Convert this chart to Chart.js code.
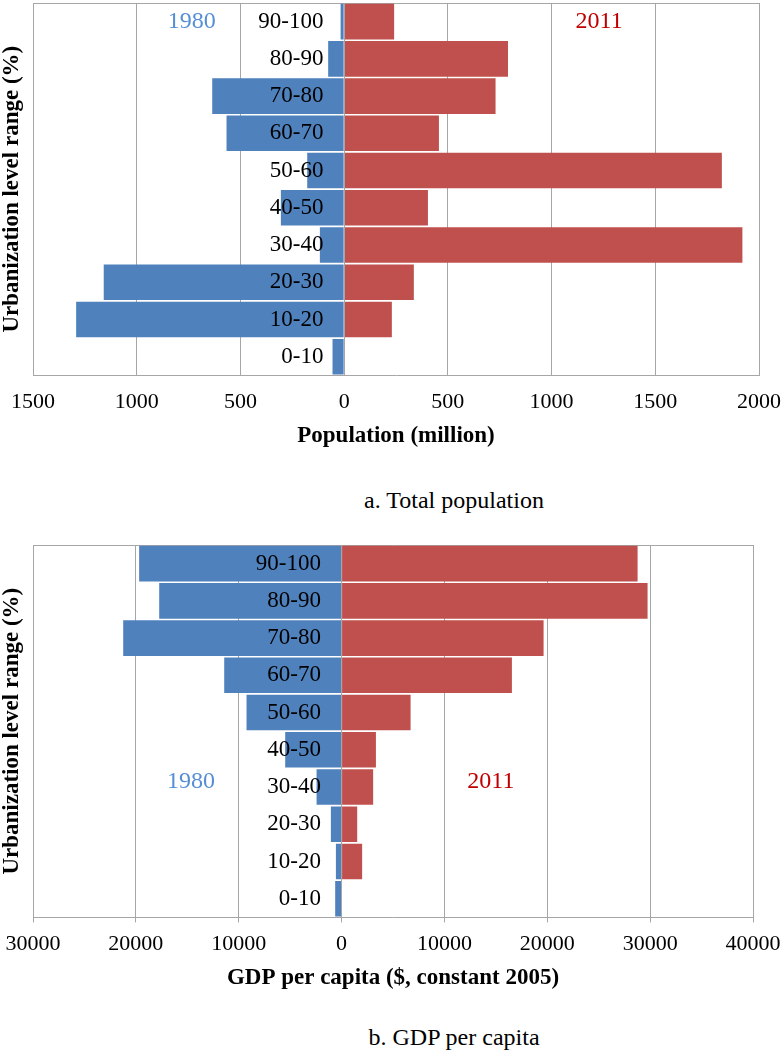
<!DOCTYPE html>
<html><head><meta charset="utf-8">
<script src="https://cdn.jsdelivr.net/npm/chart.js@4.4.1/dist/chart.umd.min.js"></script>
<style>
html,body{margin:0;padding:0;background:#fff;}
body{width:784px;height:1057px;position:relative;overflow:hidden;}
canvas{position:absolute;left:0;}
#c1{top:0}
#c2{top:540px}
.cap{position:absolute;font-family:"Liberation Serif",serif;font-size:24px;line-height:28px;white-space:nowrap;transform:translateX(-50%);left:454px;color:#000}
</style></head><body>
<canvas id="c1" width="784" height="452"></canvas>
<canvas id="c2" width="784" height="454"></canvas>
<div class="cap" style="top:486px">a. Total population</div>
<div class="cap" style="top:1023px">b. GDP per capita</div>
<script>
// ---- data ----
const categories = ['90-100','80-90','70-80','60-70','50-60','40-50','30-40','20-30','10-20','0-10'];
const seriesNames = ['1980','2011'];
const pop1980 = [17, 77, 636, 567, 178, 305, 117, 1159, 1292, 56];
const pop2011 = [241, 790, 730, 457, 1821, 404, 1920, 336, 230, 2];
const gdp1980 = [19680, 17730, 21230, 11410, 9240, 5480, 2430, 1040, 550, 620];
const gdp2011 = [28780, 29750, 19640, 16560, 6710, 3340, 3070, 1520, 2000, 0];
const popTicks = {min: -1500, max: 2000, step: 500};
const gdpTicks = {min: -30000, max: 40000, step: 10000};

// ---- style ----
const FONT = '"Liberation Serif", "Times New Roman", serif';
const GRID = '#A6A6A6';
const NONE = 'rgba(0,0,0,0)';
const BLUE = '#4F81BD';
const RED = '#C0504D';
const BLUE_TXT = '#558ED5';
const RED_TXT = '#C00000';

const yearLabelPlugin = {
  id: 'yearLabels',
  afterDatasetsDraw(chart, args, opts) {
    const ctx = chart.ctx;
    const xs = chart.scales.x, ys = chart.scales.y;
    ctx.save();
    ctx.font = '24px ' + FONT;
    ctx.textAlign = 'center';
    ctx.textBaseline = 'middle';
    (opts.items || []).forEach(it => {
      ctx.fillStyle = it.color;
      ctx.fillText(it.text, xs.getPixelForValue(it.x), ys.getPixelForValue(it.row));
    });
    ctx.restore();
  }
};

function makeChart(id, left, right, ticks, xTitle, opt) {
  return new Chart(document.getElementById(id), {
    type: 'bar',
    data: {
      labels: categories,
      datasets: [
        {label: seriesNames[0], data: left.map(v => -v), backgroundColor: BLUE, xAxisID: 'x', yAxisID: 'y'},
        {label: seriesNames[1], data: right, backgroundColor: RED, xAxisID: 'x', yAxisID: 'y'}
      ]
    },
    plugins: [yearLabelPlugin],
    options: {
      indexAxis: 'y',
      responsive: false,
      animation: false,
      events: [],
      layout: {padding: opt.layout},
      datasets: {bar: {barPercentage: 0.955, categoryPercentage: 1, borderWidth: 0}},
      plugins: {
        legend: {display: false},
        tooltip: {enabled: false},
        yearLabels: {items: opt.years}
      },
      scales: {
        x: {
          type: 'linear', position: 'bottom', stacked: true,
          min: ticks.min, max: ticks.max,
          ticks: {stepSize: ticks.step, padding: 0, maxRotation: 0, autoSkip: false,
                  color: '#000', font: {family: FONT, size: 22, lineHeight: opt.tickLH},
                  callback: v => String(Math.abs(v))},
          grid: {color: GRID, lineWidth: 1, drawTicks: opt.tickLen > 0, tickLength: opt.tickLen, tickColor: GRID},
          border: {display: true, color: GRID, width: 1},
          title: {display: true, text: xTitle, color: '#000',
                  font: {family: FONT, size: 23, weight: 'bold'}, padding: {top: opt.titlePad, bottom: 0}}
        },
        x2: {
          type: 'linear', position: 'top', min: ticks.min, max: ticks.max,
          ticks: {display: false, stepSize: ticks.step},
          grid: {z: 1, drawTicks: false, lineWidth: 1,
                 color: c => (c.tick && c.tick.value === 0) ? GRID : NONE},
          border: {display: false}
        },
        y: {
          type: 'category', position: 'left', stacked: true, offset: true,
          ticks: {display: false},
          grid: {display: true, offset: true, drawTicks: false, lineWidth: 1,
                 color: c => c.index === 0 ? GRID : NONE},
          border: {display: true, color: GRID, width: 1},
          title: {display: true, text: 'Urbanization level range (%)', color: '#000',
                  font: {family: FONT, size: 23, weight: 'bold', lineHeight: 1}, padding: {top: 1, bottom: 0}},
          afterFit: s => { s.width = 33; }
        },
        yl: {
          type: 'category', axis: 'y', position: {x: opt.labelAt}, offset: true,
          ticks: {z: 1, padding: -14, color: '#000', font: {family: FONT, size: 23}, autoSkip: false},
          grid: {display: false, drawTicks: false},
          border: {display: false}
        }
      }
    }
  });
}

makeChart('c1', pop1980, pop2011, popTicks, 'Population (million)', {
  layout: {top: 3, right: 25, bottom: 1.8, left: 0},
  tickLen: 0, tickLH: 54 / 22, titlePad: -6.8, labelAt: -100,
  years: [
    {text: seriesNames[0], x: -735, row: 0, color: BLUE_TXT},
    {text: seriesNames[1], x: 1229, row: 0, color: RED_TXT}
  ]
});

makeChart('c2', gdp1980, gdp2011, gdpTicks, 'GDP per capita ($, constant 2005)', {
  layout: {top: 5, right: 31, bottom: 1.8, left: 0},
  tickLen: 5, tickLH: 44 / 22, titlePad: -1.8, labelAt: -2000,
  years: [
    {text: seriesNames[0], x: -14650, row: 5.85, color: BLUE_TXT},
    {text: seriesNames[1], x: 14515, row: 5.85, color: RED_TXT}
  ]
});
</script>
</body></html>
